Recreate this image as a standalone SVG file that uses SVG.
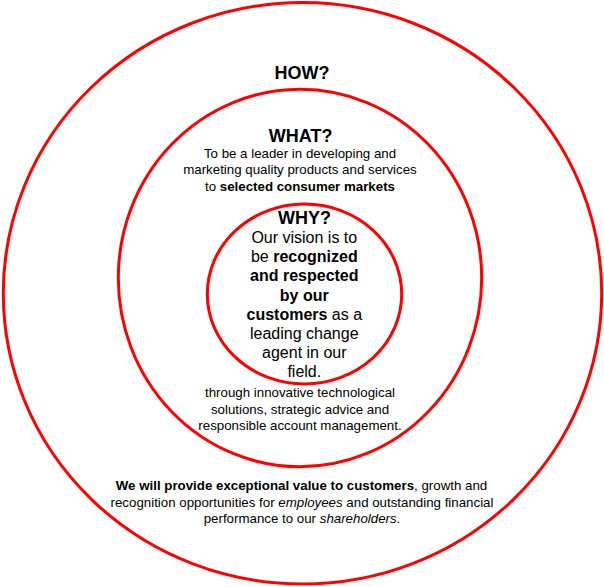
<svg xmlns="http://www.w3.org/2000/svg" width="604" height="587" viewBox="0 0 604 587">
<style>
.ring{fill:none;stroke:#ff0000;stroke-width:3}
text{font-family:"Liberation Sans",Arial,sans-serif;fill:#000;text-anchor:middle}
.h{font-size:18px;font-weight:bold}
.s{font-size:13.3px}
.m{font-size:16px}
.b{font-weight:bold}
.i{font-style:italic}
</style>
<rect width="604" height="587" fill="#fff"/>
<g id="connectors"></g>
<g id="how">
<ellipse class="ring" cx="302.5" cy="293.3" rx="299.2" ry="290.7"/>
<text class="h" x="302" y="79">HOW?</text>
<text class="s" x="301.5" y="490"><tspan class="b">We will provide exceptional value to customers</tspan>, growth and</text>
<text class="s" x="302" y="506.5">recognition opportunities for <tspan class="i">employees</tspan> and outstanding financial</text>
<text class="s" x="302" y="522.8">performance to our <tspan class="i">shareholders</tspan>.</text>
</g>
<g id="what">
<ellipse class="ring" cx="300" cy="278" rx="181.7" ry="188.7"/>
<text class="h" x="300.7" y="141.7">WHAT?</text>
<text class="s" x="300" y="158">To be a leader in developing and</text>
<text class="s" x="300" y="174.3">marketing quality products and services</text>
<text class="s" x="300" y="190.5">to <tspan class="b">selected consumer markets</tspan></text>
<text class="s" x="300" y="397.3">through innovative technological</text>
<text class="s" x="300" y="413.7">solutions, strategic advice and</text>
<text class="s" x="300" y="430">responsible account management.</text>
</g>
<g id="why">
<ellipse class="ring" cx="304.5" cy="294" rx="97.2" ry="90"/>
<text class="h" x="304.5" y="224.3">WHY?</text>
<text class="m" x="304.3" y="243.3">Our vision is to</text>
<text class="m" x="304.3" y="262.4">be <tspan class="b">recognized</tspan></text>
<text class="m b" x="304.3" y="281.4">and respected</text>
<text class="m b" x="304.3" y="300.5">by our</text>
<text class="m" x="304.3" y="319.5"><tspan class="b">customers</tspan> as a</text>
<text class="m" x="304.3" y="338.5">leading change</text>
<text class="m" x="304.3" y="357.5">agent in our</text>
<text class="m" x="304.3" y="376.5">field.</text>
</g>
</svg>
